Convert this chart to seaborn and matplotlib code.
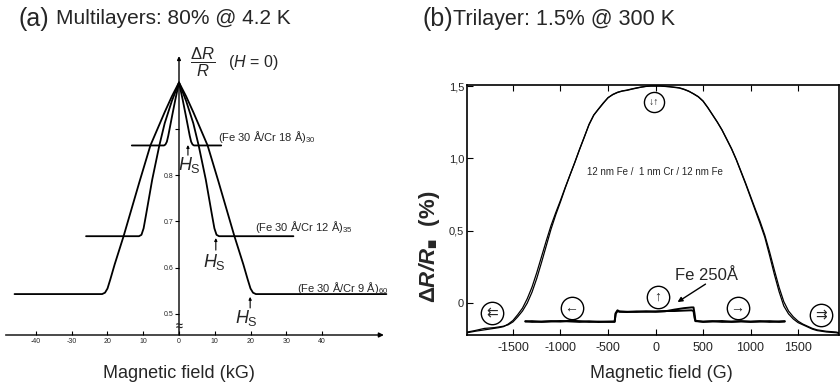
import matplotlib
matplotlib.use("Agg")
import matplotlib.pyplot as plt
import pandas as pd
import seaborn as sns

# ---------------------------------------------------------------- data
# (a) normalised resistance R(H)/R(0) of Fe/Cr multilayers at 4.2 K, field in kG
cr18_field = [-13.2, -4.2, -3.8, -3.4, -3.0, -2.0, -1.0, 0, 1.0, 2.0, 3.0, 3.4, 3.8, 4.2, 11.8]
cr18_ratio = [0.864, 0.864, 0.866, 0.872, 0.885, 0.925, 0.964, 1.0, 0.964, 0.925, 0.885, 0.872, 0.866, 0.864, 0.864]

cr12_field = [-26, -11.2, -10.5, -9.9, -9.2, -7.5, -5.5, -4, -2, 0, 2, 4, 5.5, 7.5, 9.2, 9.9, 10.5, 11.2, 32]
cr12_ratio = [0.668, 0.668, 0.671, 0.685, 0.715, 0.79, 0.864, 0.912, 0.96, 1.0, 0.96, 0.912, 0.864, 0.79, 0.715,
              0.685, 0.671, 0.668, 0.668]

cr9_field = [-46, -21.5, -20.7, -20, -19.2, -18, -15.5, -11, -8, -4, -2, 0, 2, 4, 8, 11, 15.5, 18, 19.2, 20,
             20.7, 21.5, 58]
cr9_ratio = [0.543, 0.543, 0.546, 0.555, 0.575, 0.607, 0.668, 0.787, 0.864, 0.936, 0.97, 1.0, 0.97, 0.936, 0.864,
             0.787, 0.668, 0.607, 0.575, 0.555, 0.546, 0.543, 0.543]

ml_names = ["(Fe 30 Å/Cr 18 Å)$_{30}$", "(Fe 30 Å/Cr 12 Å)$_{35}$", "(Fe 30 Å/Cr 9 Å)$_{60}$"]
ml_sat_field = [2.5, 10.3, 19.9]          # H_s markers (kG)
ml_xticks = [-40, -30, -20, -10, 0, 10, 20, 30, 40]
ml_xticklabels = ["-40", "-30", "20", "10", "0", "10", "20", "30", "40"]
ml_yticks = [0.5, 0.6, 0.7, 0.8, 0.9]
ml_yticklabels = ["0.5", "0.6", "0.7", "0.8", ""]

# (b) Fe/Cr/Fe trilayer and single Fe film at room temperature, field in G, dR/R in %
tri_field = [-1980, -1900, -1800, -1700, -1650, -1600, -1550, -1500, -1450, -1400, -1350, -1300, -1250, -1200,
             -1150, -1100, -1050, -1000, -950, -900, -850, -800, -750, -700, -650, -600, -550, -500, -450, -400,
             -350, -300, -250, -200, -150, -100, -50, 0, 50, 100, 150, 200, 250, 300, 350, 400, 450, 500, 550,
             600, 650, 700, 750, 800, 850, 900, 950, 1000, 1050, 1100, 1150, 1200, 1250, 1300, 1350, 1400, 1450,
             1500, 1550, 1600, 1650, 1700, 1800, 1900, 1930]
tri_up = [-0.205, -0.195, -0.185, -0.175, -0.17, -0.163, -0.145, -0.12, -0.08, -0.035, 0.03, 0.11, 0.21, 0.32,
          0.43, 0.535, 0.625, 0.71, 0.80, 0.885, 0.97, 1.06, 1.145, 1.235, 1.30, 1.34, 1.38, 1.42, 1.44, 1.455,
          1.465, 1.47, 1.478, 1.485, 1.492, 1.497, 1.5, 1.5, 1.5, 1.498, 1.495, 1.492, 1.488, 1.478, 1.465, 1.445,
          1.425, 1.395, 1.35, 1.30, 1.25, 1.195, 1.13, 1.065, 0.99, 0.905, 0.82, 0.73, 0.64, 0.55, 0.455, 0.33,
          0.20, 0.08, -0.02, -0.075, -0.11, -0.135, -0.15, -0.165, -0.18, -0.19, -0.2, -0.205, -0.21]
tri_down = [-0.2, -0.19, -0.175, -0.17, -0.165, -0.16, -0.15, -0.13, -0.095, -0.055, 0.0, 0.075, 0.17, 0.28,
            0.395, 0.51, 0.61, 0.70, 0.795, 0.885, 0.972, 1.062, 1.148, 1.232, 1.298, 1.342, 1.383, 1.418, 1.442,
            1.457, 1.466, 1.472, 1.48, 1.487, 1.493, 1.498, 1.5, 1.5, 1.5, 1.497, 1.495, 1.49, 1.486, 1.476, 1.463,
            1.447, 1.427, 1.397, 1.352, 1.302, 1.252, 1.197, 1.133, 1.068, 0.993, 0.91, 0.826, 0.738, 0.65, 0.565,
            0.47, 0.355, 0.23, 0.11, 0.01, -0.055, -0.095, -0.125, -0.145, -0.16, -0.175, -0.185, -0.195, -0.2,
            -0.205]

fe_field = [-1370, -1300, -1200, -1100, -1000, -900, -800, -700, -600, -500, -430, -420, -400, -380, -300, -200,
            -100, 0, 100, 200, 300, 380, 400, 410, 420, 500, 600, 700, 800, 900, 1000, 1100, 1200, 1300, 1360]
fe_up = [-0.125, -0.13, -0.128, -0.125, -0.128, -0.122, -0.125, -0.13, -0.128, -0.13, -0.13, -0.075, -0.055,
         -0.06, -0.062, -0.058, -0.06, -0.058, -0.055, -0.055, -0.052, -0.05, -0.055, -0.1, -0.125, -0.128,
         -0.125, -0.13, -0.128, -0.125, -0.13, -0.128, -0.125, -0.13, -0.128]
fe_down = [-0.128, -0.125, -0.13, -0.127, -0.124, -0.127, -0.13, -0.126, -0.131, -0.128, -0.127, -0.07, -0.05,
           -0.058, -0.06, -0.061, -0.057, -0.06, -0.057, -0.045, -0.035, -0.03, -0.03, -0.07, -0.122, -0.13,
           -0.127, -0.124, -0.13, -0.127, -0.128, -0.125, -0.13, -0.127, -0.125]

tri_xticks = [-1500, -1000, -500, 0, 500, 1000, 1500]
tri_xticklabels = ["-1500", "-1000", "-500", "0", "500", "1000", "1500"]
tri_yticks = [0, 0.5, 1.0, 1.5]
tri_yticklabels = ["0", "0,5", "1,0", "1,5"]

# magnetisation configuration symbols (field G, dR/R %, glyph)
config_marks = [(-1716, -0.069, "⇇"), (-884, -0.035, "←"), (21, 0.041, "↑"),
                (863, -0.035, "→"), (1737, -0.083, "⇉")]

# ---------------------------------------------------------------- style
sns.set_theme(style="ticks")
plt.rcParams["font.family"] = ["Liberation Sans", "DejaVu Sans"]
plt.rcParams["mathtext.fontset"] = "custom"
plt.rcParams["mathtext.rm"] = "Liberation Sans"
plt.rcParams["mathtext.it"] = "Liberation Sans:italic"
plt.rcParams["mathtext.bf"] = "Liberation Sans:bold"
plt.rcParams["mathtext.sf"] = "Liberation Sans:bold:italic"
plt.rcParams["axes.unicode_minus"] = False

W, H = 840, 386
fig = plt.figure(figsize=(W / 100, H / 100), dpi=100)
fig.patch.set_facecolor("white")

# ---------------------------------------------------------------- panel (a)
ax = fig.add_axes([5 / W, 51 / H, 385 / W, 290 / H])
ax.set_facecolor("none")
ml = pd.concat([
    pd.DataFrame({"sample": n, "field": f, "ratio": r})
    for n, f, r in zip(ml_names, [cr18_field, cr12_field, cr9_field], [cr18_ratio, cr12_ratio, cr9_ratio])
])
sns.lineplot(data=ml, x="field", y="ratio", units="sample", estimator=None, sort=False,
             color="black", lw=1.3, ax=ax, legend=False)
ax.set_xlim(-48.67, 59.02)
ax.set_ylim(0.4546, 1.081)
y0 = 0.4546
for s in ["top", "right", "bottom", "left"]:
    ax.spines[s].set_visible(False)
ax.spines["left"].set_position(("data", 0))
ax.set_xticks(ml_xticks, ml_xticklabels)
ax.set_yticks(ml_yticks, ml_yticklabels)
ax.tick_params(axis="x", direction="in", length=3, width=0.8, labelsize=5, pad=2, color="black")
ax.tick_params(axis="y", direction="out", length=3, width=0.8, labelsize=5, pad=1, color="black")
ax.set_xlabel("")
ax.set_ylabel("")
# axis arrows
ax.annotate("", xy=(57.3, y0), xytext=(-48.5, y0), annotation_clip=False,
            arrowprops=dict(arrowstyle="-|>", lw=1.0, color="black", mutation_scale=7, shrinkA=0, shrinkB=0))
ax.annotate("", xy=(0, 1.057), xytext=(0, y0), annotation_clip=False,
            arrowprops=dict(arrowstyle="-|>", lw=1.0, color="black", mutation_scale=5, shrinkA=0, shrinkB=0))
ax.text(0, 0.472, "≈", ha="center", va="center", fontsize=9, fontweight="bold")

ax.text(6.7, 1.044, r"$\dfrac{\Delta R}{R}$", ha="center", va="center", fontsize=12)
ax.text(13.6, 1.044, "($H$ = 0)", ha="left", va="center", fontsize=11.5)

label_pos = [(10.9, 0.882), (21.3, 0.688), (33.0, 0.556)]
for name, (lx, ly) in zip(ml_names, label_pos):
    ax.text(lx, ly, name, ha="left", va="center", fontsize=8)

hs_arrows = [(0.843, 0.865, 0.822, 2.8), (0.638, 0.664, 0.612, 9.8), (0.513, 0.537, 0.491, 19.0)]
for hs, (ya, yb, yt, xt) in zip(ml_sat_field, hs_arrows):
    ax.annotate("", xy=(hs, yb), xytext=(hs, ya),
                arrowprops=dict(arrowstyle="-|>", lw=0.8, color="black", mutation_scale=4, shrinkA=0, shrinkB=0))
    ax.text(xt, yt, r"$H_{\mathrm{S}}$", ha="center", va="center", fontsize=13)

fig.text(179 / W, 1 - 373 / H, "Magnetic field (kG)", ha="center", va="center", fontsize=13)

# ---------------------------------------------------------------- panel (b)
bx = fig.add_axes([467 / W, 51 / H, 372 / W, 250 / H])
tri = pd.concat([
    pd.DataFrame({"sweep": "up", "field": tri_field, "dr": tri_up}),
    pd.DataFrame({"sweep": "down", "field": tri_field, "dr": tri_down}),
])
fe = pd.concat([
    pd.DataFrame({"sweep": "up", "field": fe_field, "dr": fe_up}),
    pd.DataFrame({"sweep": "down", "field": fe_field, "dr": fe_down}),
])
sns.lineplot(data=tri, x="field", y="dr", units="sweep", estimator=None, sort=False,
             color="black", lw=0.9, ax=bx, legend=False)
sns.lineplot(data=fe, x="field", y="dr", units="sweep", estimator=None, sort=False,
             color="black", lw=1.4, ax=bx, legend=False)
bx.set_xlim(-1984, 1931)
bx.set_ylim(-0.2207, 1.507)
bx.set_xticks(tri_xticks, tri_xticklabels)
bx.set_yticks(tri_yticks, tri_yticklabels)
bx.tick_params(axis="x", direction="in", length=4, width=0.8, labelsize=9, pad=5, top=True, color="black")
bx.tick_params(axis="y", direction="in", length=4, width=0.8, labelsize=8, pad=2, color="black")
for s in bx.spines.values():
    s.set_linewidth(1.2)
    s.set_color("black")
bx.set_xlabel("")
bx.set_ylabel(r"$\mathbf{\Delta}\mathsf{R/R}_{\blacksquare}$  (%)", fontsize=16, fontweight="bold")
bx.yaxis.set_label_coords(-0.068, 0.352)

for hx, hy, glyph in config_marks:
    bx.scatter([hx], [hy], s=260, facecolor="white", edgecolor="black", linewidth=1.0, zorder=5)
    bx.text(hx, hy, glyph, ha="center", va="center", fontsize=10, zorder=6)
bx.scatter([-21], [1.389], s=210, facecolor="white", edgecolor="black", linewidth=1.0, zorder=5)
bx.text(-21, 1.389, "↓↑", ha="center", va="center", fontsize=7.5, zorder=6)

bx.text(-11, 0.903, "12 nm Fe /  1 nm Cr / 12 nm Fe", ha="center", va="center", fontsize=7)
bx.text(537, 0.193, "Fe 250Å", ha="center", va="center", fontsize=12)
bx.annotate("", xy=(232, 0.007), xytext=(526, 0.131),
            arrowprops=dict(arrowstyle="-|>", lw=1.0, color="black", mutation_scale=7, shrinkA=0, shrinkB=0))

fig.text(661 / W, 1 - 373 / H, "Magnetic field (G)", ha="center", va="center", fontsize=13)

# ---------------------------------------------------------------- titles
fig.text(19 / W, 1 - 19 / H, "(a)", ha="left", va="center", fontsize=18)
fig.text(56 / W, 1 - 19 / H, "Multilayers: 80% @ 4.2 K", ha="left", va="center", fontsize=15)
fig.text(422 / W, 1 - 19 / H, "(b)", ha="left", va="center", fontsize=18)
fig.text(453 / W, 1 - 19 / H, "Trilayer: 1.5% @ 300 K", ha="left", va="center", fontsize=15.5)

fig.savefig("out.png", dpi=100)
